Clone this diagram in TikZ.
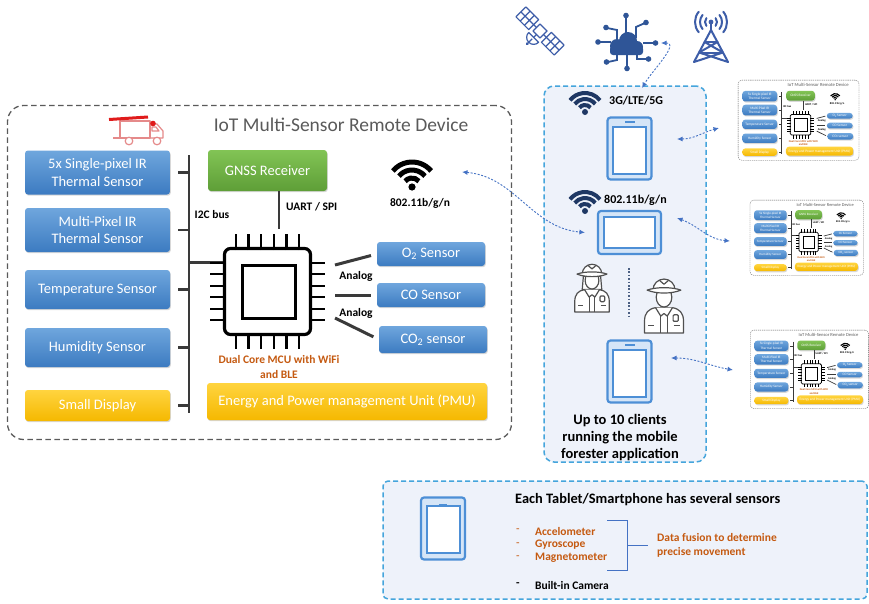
\documentclass[tikz,border=0pt]{standalone}
\usepackage{fontspec}
\setmainfont{Carlito}
\usetikzlibrary{shadows,arrows.meta}

\definecolor{boxblueA}{HTML}{6FA6DD}
\definecolor{boxblueB}{HTML}{3C7BC1}
\definecolor{boxgreenA}{HTML}{82C455}
\definecolor{boxgreenB}{HTML}{5E9E37}
\definecolor{boxyellowA}{HTML}{FFD43F}
\definecolor{boxyellowB}{HTML}{F5B800}
\definecolor{busgray}{HTML}{3A3A3A}
\definecolor{mcuorange}{HTML}{C55A11}
\definecolor{titlegray}{HTML}{5A5A5A}
\definecolor{linkblue}{HTML}{4472C4}
\definecolor{frameblue}{HTML}{45A5DC}
\definecolor{panelfill}{HTML}{EEF2FA}
\definecolor{tabblue}{HTML}{4D8FD6}
\definecolor{tabfill}{HTML}{D5E5F7}
\definecolor{iconblue}{HTML}{3D5DA8}
\definecolor{cloudblue}{HTML}{2F5597}
\definecolor{navy}{HTML}{1F3864}
\definecolor{truckred}{HTML}{E58A8A}
\definecolor{truckbar}{HTML}{E01B1B}
\definecolor{personline}{HTML}{505050}

\newcommand\setfs[2]{\fontsize{#1}{#2}\selectfont}

\tikzset{
  sensorbox/.style={rounded corners=3pt, text=white, align=center, inner sep=0pt,
    font=\setfs{14.5}{17.5},
    drop shadow={shadow xshift=0.8pt, shadow yshift=-1.2pt, opacity=0.3}},
  bluebox/.style={sensorbox, top color=boxblueA, bottom color=boxblueB},
  greenbox/.style={sensorbox, top color=boxgreenA, bottom color=boxgreenB},
  yellowbox/.style={sensorbox, top color=boxyellowA, bottom color=boxyellowB},
  smalllabel/.style={font=\bfseries\setfs{11.5}{13}, text=black, inner sep=0pt},
  itemtext/.style={font=\bfseries\setfs{11.5}{14}, anchor=west, inner sep=0pt, align=left},
  linkarrow/.style={draw=linkblue, line width=0.9pt, dash pattern=on 2pt off 1.6pt,
    {Latex[length=5.5pt,width=5pt]}-{Latex[length=5.5pt,width=5pt]}},
  panel/.style={draw=frameblue, fill=panelfill, line width=1.5pt,
    dash pattern=on 5pt off 3pt, inner sep=0pt},
  % the remote device block; the argument scales the line widths
  device/.pic={
    \pgfmathsetlengthmacro\dvDashOn{#1*5.5pt}
    \pgfmathsetlengthmacro\dvDashOff{#1*3.5pt}
    \pgfmathsetlengthmacro\dvGap{#1*6pt}
    \node[draw=titlegray, line width=#1*1.3pt, dash pattern=on \dvDashOn off \dvDashOff,
      rounded corners=#1*16pt, minimum width=504pt, minimum height=334pt, inner sep=0pt]
      (-frame) at (259.5,-272.5) {};
    \node[font=\setfs{19.5}{22}, text=titlegray] (-title) at (341,-125) {IoT Multi-Sensor Remote Device};
    \node[bluebox, minimum width=145pt, minimum height=44pt] (-ir5) at (97.5,-172.5) {5x Single-pixel IR\\Thermal Sensor};
    \node[bluebox, minimum width=145pt, minimum height=44pt] (-irm) at (97.5,-230) {Multi-Pixel IR\\Thermal Sensor};
    \node[bluebox, minimum width=145pt, minimum height=39pt] (-temp) at (97.5,-289.5) {Temperature Sensor};
    \node[bluebox, minimum width=145pt, minimum height=39pt] (-hum) at (97.5,-347.5) {Humidity Sensor};
    \node[yellowbox, minimum width=145pt, minimum height=31pt] (-disp) at (97.5,-405.5) {Small Display};
    \node[greenbox, minimum width=119pt, minimum height=41pt] (-gnss) at (267.5,-170.5) {GNSS Receiver};
    \node[bluebox, minimum width=108pt, minimum height=24pt] (-o2) at (431,-254) {O\textsubscript{2} Sensor};
    \node[bluebox, minimum width=108pt, minimum height=24pt] (-co) at (431,-295) {CO Sensor};
    \node[bluebox, minimum width=108pt, minimum height=27pt] (-co2) at (433,-339.5) {CO\textsubscript{2} sensor};
    \node[yellowbox, minimum width=280pt, minimum height=37pt, font=\setfs{14.5}{17}] (-pmu) at (347,-401.5) {Energy and Power management Unit (PMU)};
    % I2C bus
    \coordinate (-busT) at (189,-155);
    \coordinate (-busB) at (189,-413);
    \coordinate (-tickx) at (178,0);
    \draw[busgray, line width=#1*2.6pt] (-busT) -- (-busB);
    \foreach \n in {ir5,irm,temp,hum,disp}
      \draw[busgray, line width=#1*2.6pt] (-\n.east -| -tickx) -- (-\n.east -| -busT);
    \coordinate (-pinL) at (226,-262.75);
    \draw[busgray, line width=#1*2.6pt] (-busT |- -pinL) -- (-pinL);
    \node[smalllabel] (-i2c) at (212,-215) {I2C bus};
    % microcontroller
    \node[draw=black, line width=#1*3.2pt, rounded corners=#1*6pt, minimum size=86pt, inner sep=0pt] (-mcu) at (267.5,-291.5) {};
    \node[draw=black, line width=#1*3pt, minimum size=53pt, inner sep=0pt] (-core) at (268.5,-292) {};
    \foreach \k in {-2.5,-1.5,-0.5,0.5,1.5,2.5} {
      \draw[line width=#1*2.4pt] ({267.5+\k*12.6},-250) -- ++(0,16);
      \draw[line width=#1*2.4pt] ({267.5+\k*12.6},-333) -- ++(0,-16);
      \draw[line width=#1*2.4pt] (226,{-291.5+\k*11.5}) -- ++(-16,0);
      \draw[line width=#1*2.4pt] (309,{-291.5+\k*11.5}) -- ++(16,0);
    }
    \node[font=\bfseries\setfs{11.5}{14.5}, text=mcuorange, align=center] (-mculbl) at (279,-367) {Dual Core MCU with WiFi\\and BLE};
    % GNSS link
    \coordinate (-uart) at (279,-229);
    \draw[busgray, line width=#1*2.6pt] (-uart |- -gnss.south) -- (-uart);
    \node[smalllabel, anchor=west] (-uartlbl) at (286,-207) {UART / SPI};
    % analog gas sensors
    \coordinate (-an1) at (335,-265);
    \coordinate (-an2) at (335,-295);
    \coordinate (-an3) at (335,-318);
    \draw[busgray, line width=#1*3pt, shorten >=\dvGap] (-an1) -- (-o2.west);
    \draw[busgray, line width=#1*3pt, shorten >=\dvGap] (-an2) -- (-co.west);
    \draw[busgray, line width=#1*3pt, shorten >=\dvGap] (-an3) -- (-co2.west);
    \node[smalllabel] (-anl1) at (356,-276) {Analog};
    \node[smalllabel] (-anl2) at (356,-313) {Analog};
    % WiFi
    \begin{scope}[shift={(412,-187)}]
      \fill (0,0) circle (3.6);
      \foreach \r in {9,17,25}
        \draw[line width=#1*5pt] (40:\r) arc[start angle=40, end angle=140, radius=\r];
    \end{scope}
    \node[smalllabel] (-wifilbl) at (420,-203) {802.11b/g/n};
    \coordinate (-wifiport) at (462,-172);
  },
  tabletP/.pic={
    \node[draw=tabblue, fill=tabfill, line width=2.2pt, rounded corners=3pt,
      minimum width=44pt, minimum height=62pt, inner sep=0pt] (-frame) at (0,0) {};
    \node[draw=tabblue, fill=white, line width=2pt, minimum width=33pt,
      minimum height=47pt, inner sep=0pt] (-screen) at (0,-1.5) {};
    \fill[tabblue] (-5,25.5) rectangle (5,27.5);
  },
  tabletL/.pic={
    \node[draw=tabblue, fill=tabfill, line width=2.2pt, rounded corners=3pt,
      minimum width=63pt, minimum height=43pt, inner sep=0pt] (-frame) at (0,0) {};
    \node[draw=tabblue, fill=white, line width=2pt, minimum width=51pt,
      minimum height=31pt, inner sep=0pt] (-screen) at (0,0) {};
  },
  wifisign/.pic={
    \fill (0,0) circle (3);
    \foreach \r in {7,13,19}
      \draw[line width=4pt] (38:\r) arc[start angle=38, end angle=142, radius=\r];
  },
  forester/.pic={
    \begin{scope}[personline, line width=1.2pt, line join=round]
      \draw[fill=white] (-15,0) -- (-15,9) .. controls (-15,15.5) and (-12,18.5) .. (-6.5,19.5)
        -- (6.5,19.5) .. controls (12,18.5) and (15,15.5) .. (15,9) -- (15,0) -- cycle;
      \ifnum#1=1
        \draw[fill=white] (-7.5,31) -- (-8.5,19.5) -- (8.5,19.5) -- (7.5,31) -- cycle;
      \fi
      \draw[fill=white] (-6.5,19.5) -- (-2.5,13) -- (0,15) -- (2.5,13) -- (6.5,19.5);
      \draw (-2.5,13) -- (-2.5,0) (2.5,13) -- (2.5,0);
      \draw (-12,6) -- (-7.5,6) (7.5,6) -- (12,6);
      \draw[rounded corners=1pt] (7,9) rectangle (11,14);
      \draw[fill=white] (0,27.5) ellipse [x radius=6, y radius=7.5];
      \draw[fill=white] (-8.5,33) arc[start angle=180, end angle=0, radius=8.5];
      \draw (-3.5,40.5) -- (0,37.5) -- (3.5,40.5);
      \draw[fill=white] (-13,33) .. controls (-6,30) and (6,30) .. (13,33)
        .. controls (6,35.5) and (-6,35.5) .. cycle;
    \end{scope}
  }
}

\begin{document}
\begin{tikzpicture}[x=1pt, y=1pt]
\useasboundingbox (0,0) rectangle (869,-603);
\fill[white] (0,0) rectangle (869,-603);

% clients panel and sensor panel
\node[panel, rounded corners=10pt, minimum width=162pt, minimum height=376pt] (clients) at (625,-274) {};
\node[panel, rounded corners=5pt, minimum width=484pt, minimum height=118pt] (sensorpanel) at (625,-540) {};

% remote device
\pic (dev) at (0,0) {device=1};

% delivery truck
\begin{scope}[truckred, line width=1.2pt, line join=round]
  \draw (120,-121) rectangle (150,-138);
  \draw (150,-124) -- (157,-124) -- (163,-131) -- (163,-138) -- (150,-138);
  \draw (152,-127) -- (156,-127) -- (159,-131) -- (152,-131) -- cycle;
  \draw (113,-138) -- (120,-138);
  \draw[fill=white] (129,-141) circle (3.8);
  \draw[fill=white] (157,-141) circle (3.8);
\end{scope}
\draw[truckbar, line width=3pt] (109,-119.5) -- (148,-117);
\fill[truckbar] (153,-123.5) circle (2.8);

% overview copies of the device
\pic[scale=0.24, transform shape] (th1) at (736.3,-54.8) {device=0.24};
\pic[scale=0.225, transform shape] (th2) at (748.4,-176.4) {device=0.225};
\pic[scale=0.235, transform shape] (th3) at (748.4,-305.3) {device=0.235};

% satellite
\begin{scope}[shift={(540,-31)}, rotate=-45, iconblue, line width=1.2pt, line join=round]
  \draw[fill=white] (-27,-7) rectangle (-9,7);
  \draw (-21,-7) -- (-21,7) (-15,-7) -- (-15,7) (-27,0) -- (-9,0);
  \draw[fill=white] (9,-7) rectangle (27,7);
  \draw (15,-7) -- (15,7) (21,-7) -- (21,7) (9,0) -- (27,0);
  \draw (-9,0) -- (-5,0) (5,0) -- (9,0);
  \draw[fill=white] (-5,-5) rectangle (5,5);
  \draw (0,-5) -- (0,-9);
  \draw[fill=white] (-7,-9) -- (7,-9) arc[start angle=0, end angle=-180, radius=7];
  \draw (0,-11) -- (0,-18);
  \fill (0,-18) circle (1.6);
\end{scope}

% cloud network
\begin{scope}[cloudblue, line width=1.8pt]
  \fill (617,-46) circle (7) (628,-41) circle (9) (637,-47) circle (6);
  \fill[rounded corners=3pt] (610,-55) rectangle (643,-46);
  \draw (626,-33) -- (626,-17);
  \draw (617,-40) -- (617,-30) -- (607,-28);
  \draw (636,-38) -- (636,-27) -- (645,-23);
  \draw (611,-42) -- (599,-42);
  \draw (643,-43) -- (654,-43);
  \draw (627,-54) -- (627,-67);
  \draw (617,-54) -- (617,-60) -- (608,-62);
  \draw (637,-54) -- (637,-59) -- (647,-59);
  \fill (626,-15.5) circle (2.8) (606,-27.5) circle (2.8) (646,-22.5) circle (2.8)
        (598,-42) circle (2.8) (655.5,-43) circle (2.8) (627,-68.5) circle (2.8)
        (606.5,-62) circle (2.8) (648.5,-59) circle (2.8);
  \coordinate (cloudport) at (661,-43);
\end{scope}

% cell tower
\begin{scope}[iconblue, line width=2pt, line join=round, line cap=round]
  \draw (694,-62) -- (711,-30) -- (728,-62);
  \draw (704.6,-42) -- (717.4,-42) (699.1,-52.5) -- (722.9,-52.5);
  \draw (704.6,-42) -- (722.9,-52.5) (717.4,-42) -- (699.1,-52.5);
  \draw (699.1,-52.5) -- (728,-62) (722.9,-52.5) -- (694,-62);
  \draw (711,-30) -- (711,-24);
  \fill (711,-22) circle (2.4);
  \foreach \r in {6,11,16} {
    \draw (711,-22) ++(140:\r) arc[start angle=140, end angle=220, radius=\r];
    \draw (711,-22) ++(-40:\r) arc[start angle=-40, end angle=40, radius=\r];
  }
\end{scope}

% clients: wifi signs, tablets, foresters
\begin{scope}[navy]
  \pic (wan) at (585,-112) {wifisign};
  \pic (lan) at (585,-211) {wifisign};
\end{scope}
\node[font=\bfseries\setfs{12}{14}, anchor=west, inner sep=0pt] (lte) at (609,-101) {3G/LTE/5G};
\node[font=\bfseries\setfs{12}{14}, anchor=west, inner sep=0pt] (wlan) at (604,-200) {802.11b/g/n};
\pic (tab1) at (629.5,-148.5) {tabletP};
\pic (tab2) at (629.5,-232.5) {tabletL};
\pic (tab3) at (629.5,-371.5) {tabletP};
\pic (pers1) [scale=1.15] at (592,-312) {forester=1};
\pic (pers2) [scale=1.3] at (664,-333) {forester=0};
\coordinate (dotT) at (629,-268);
\coordinate (dotB) at (629,-318);
\draw[navy!80, line width=2pt, dash pattern=on 1.6pt off 1.8pt] (dotT) -- (dotB);
\node[font=\bfseries\setfs{14.5}{17}, align=center] (clientsnote) at (620,-438)
  {Up to 10 clients\\running the mobile\\forester application};

% wireless links
\coordinate (lteport) at (642,-88);
\coordinate (t1a) at (677,-139);
\coordinate (t1b) at (719,-128);
\coordinate (t2a) at (677,-218);
\coordinate (t2b) at (730,-241);
\coordinate (t3a) at (671,-358);
\coordinate (t3b) at (733,-370);
\draw[linkarrow] (dev-wifiport) to[out=-5, in=175] ([xshift=-12pt]tab2-frame.west);
\draw[linkarrow] (cloudport) to[out=0, in=60] (lteport);
\draw[linkarrow] (t1a) to[out=0, in=195] (t1b);
\draw[linkarrow] (t2a) to[out=-20, in=175] (t2b);
\draw[linkarrow] (t3a) to[out=0, in=170] (t3b);

% phone sensors
\pic (tabB) [scale=0.88] at (443,-528.5) {tabletP};
\node[font=\bfseries\setfs{14.4}{16}, anchor=west, inner sep=0pt] (sensorstitle) at (515,-500)
  {Each Tablet/Smartphone has several sensors};
\foreach \y/\t/\nm in {531/Accelometer/acc, 545/Gyroscope/gyro, 558/Magnetometer/mag} {
  \node[font=\setfs{11.5}{13}, text=mcuorange, inner sep=0pt] (\nm-dash) at (518,-\y) {-};
  \node[itemtext, text=mcuorange] (\nm) at (535,-\y) {\t};
}
\node[font=\bfseries\setfs{11.5}{13}, inner sep=0pt] (cam-dash) at (518,-585) {-};
\node[itemtext] (cam) at (535,-585) {Built-in Camera};
\node[itemtext, text=mcuorange] (fusion) at (657,-545) {Data fusion to determine\\precise movement};
\coordinate (brA) at (607,-520);
\coordinate (brB) at (607,-570);
\coordinate (brx) at (627,0);
\draw[linkblue, line width=1pt] (brA) -- (brA -| brx) -- (brB -| brx) -- (brB);
\draw[linkblue, line width=1pt, shorten >=9pt] (brx |- fusion.west) -- (fusion.west);
\end{tikzpicture}
\end{document}
